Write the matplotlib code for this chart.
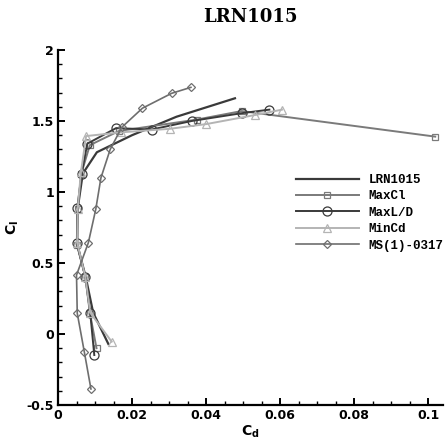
import matplotlib
matplotlib.use("Agg")
import matplotlib.pyplot as plt
from matplotlib.ticker import MultipleLocator, FuncFormatter

# ---- data ----
lrn_cd = [0.0136, 0.0095, 0.0075, 0.0052, 0.0053, 0.0067, 0.0105, 0.0200, 0.0320, 0.0478]
lrn_cl = [-0.07, 0.15, 0.40, 0.63, 0.88, 1.13, 1.28, 1.40, 1.53, 1.66]

maxcl_cd = [0.0104, 0.0086, 0.0074, 0.0051, 0.0053, 0.0063, 0.0086, 0.0165, 0.0375, 0.0496, 0.1019]
maxcl_cl = [-0.10, 0.15, 0.40, 0.63, 0.88, 1.13, 1.33, 1.43, 1.51, 1.57, 1.39]

maxld_cd = [0.0098, 0.0087, 0.0074, 0.0051, 0.0052, 0.0064, 0.0079, 0.0157, 0.0253, 0.0361, 0.0496, 0.0571]
maxld_cl = [-0.148, 0.15, 0.40, 0.64, 0.885, 1.13, 1.34, 1.45, 1.44, 1.50, 1.555, 1.58]

mincd_cd = [0.0145, 0.0087, 0.0074, 0.0052, 0.0053, 0.0062, 0.0076, 0.0170, 0.0302, 0.0400, 0.0532, 0.0605]
mincd_cl = [-0.054, 0.15, 0.40, 0.64, 0.88, 1.14, 1.394, 1.42, 1.445, 1.478, 1.542, 1.58]

ms_cd = [0.0089, 0.0071, 0.0052, 0.0050, 0.0082, 0.0102, 0.0116, 0.0141, 0.0172, 0.0228, 0.0307, 0.0359]
ms_cl = [-0.387, -0.125, 0.146, 0.415, 0.643, 0.878, 1.10, 1.30, 1.455, 1.59, 1.695, 1.737]

labels = ["LRN1015", "MaxCl", "MaxL/D", "MinCd", "MS(1)-0317"]

fig = plt.figure(figsize=(4.46, 4.44), dpi=100)
ax = fig.add_axes([58/446, (444-405)/444, (443-58)/446, (405-50)/444])

ax.plot(lrn_cd, lrn_cl, color="#3a3a3a", lw=1.6, label=labels[0])
ax.plot(maxcl_cd, maxcl_cl, color="#7a7a7a", lw=1.4, marker="s", ms=4.5,
        mfc="none", mec="#7a7a7a", mew=0.9, label=labels[1])
ax.plot(maxld_cd, maxld_cl, color="#3a3a3a", lw=1.4, marker="o", ms=6.5,
        mfc="none", mec="#3a3a3a", mew=0.9, label=labels[2])
ax.plot(mincd_cd, mincd_cl, color="#b4b4b4", lw=1.4, marker="^", ms=5.5,
        mfc="none", mec="#b4b4b4", mew=0.9, label=labels[3])
ax.plot(ms_cd, ms_cl, color="#6e6e6e", lw=1.2, marker="D", ms=4.5,
        mfc="none", mec="#6e6e6e", mew=0.9, label=labels[4])

ax.set_xlim(0, 0.104)
ax.set_ylim(-0.5, 2)
for s in ["top", "right"]:
    ax.spines[s].set_visible(False)
for s in ["left", "bottom"]:
    ax.spines[s].set_linewidth(1.6)

ax.xaxis.set_major_locator(MultipleLocator(0.02))
ax.xaxis.set_minor_locator(MultipleLocator(0.005))
ax.yaxis.set_major_locator(MultipleLocator(0.5))
ax.yaxis.set_minor_locator(MultipleLocator(0.1))
ax.tick_params(which="major", direction="in", length=5, width=1.4, labelsize=9, pad=3)
ax.tick_params(which="minor", direction="in", length=3, width=1.0)

def fmt(v, pos):
    return "%g" % round(v, 4)
ax.xaxis.set_major_formatter(FuncFormatter(fmt))
ax.yaxis.set_major_formatter(FuncFormatter(fmt))
for lab in ax.get_xticklabels() + ax.get_yticklabels():
    lab.set_fontweight("bold")
    lab.set_family("DejaVu Sans")

ax.set_xlabel(r"C$_\mathregular{d}$", fontsize=10, fontweight="bold", labelpad=1)
ax.set_ylabel(r"C$_\mathregular{l}$", fontsize=10, fontweight="bold", labelpad=4)

fig.text(250/446, 1 - 17/444, "LRN1015", ha="center", va="center",
         fontsize=13, fontweight="bold", family="DejaVu Serif")

leg = ax.legend(loc="upper left", bbox_to_anchor=(296/446, 1 - 174/444),
                bbox_transform=fig.transFigure, frameon=False,
                prop={"family": "Liberation Mono", "weight": "bold", "size": 9},
                handlelength=5.0, handletextpad=0.8, labelspacing=0.35,
                borderaxespad=0, borderpad=0)

fig.savefig("out.png", dpi=100)
